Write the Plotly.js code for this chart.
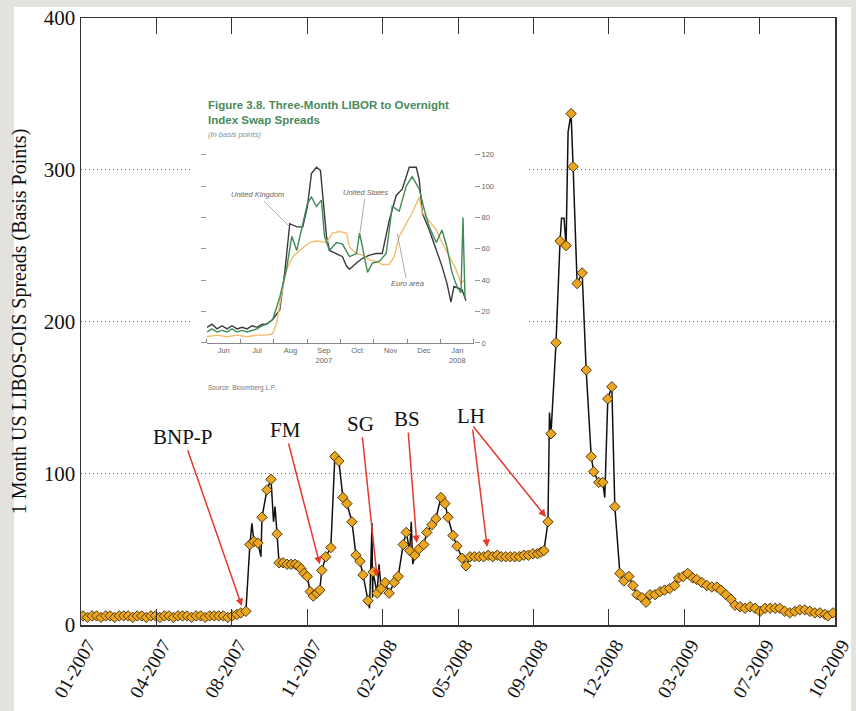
<!DOCTYPE html>
<html><head><meta charset="utf-8">
<script src="https://cdn.plot.ly/plotly-3.0.1.min.js"></script>
<style>html,body{margin:0;padding:0;background:#e4e2dd;} #chart{width:856px;height:711px;}</style>
</head><body><div id="chart"></div>
<script>
// ---------- main chart data (x = observation position, y = 1M LIBOR-OIS spread, bp) ----------
const tickPos = [0,15,30,45,60,75,90,105,120,135,150];
const tickLabels = ['01-2007','04-2007','08-2007','11-2007','02-2008','05-2008','09-2008','12-2008','03-2009','07-2009','10-2009'];

const obsT = [0.4,1.3,2.2,3.1,4.0,4.9,5.8,6.7,7.6,8.5,9.4,10.3,11.2,12.1,13.0,13.9,14.8,15.7,16.6,17.5,18.4,19.3,20.2,21.1,22.0,22.9,23.8,24.7,25.6,26.5,27.4,28.3,29.2,30.1,31.0,31.8,32.8,
  33.6,34.4,35.2,36.0,37.0,37.8,39.0,39.4,40.2,41.0,41.8,42.6,43.2,43.8,44.4,45.0,45.6,46.2,46.9,47.5,47.9,48.7,49.7,50.5,51.3,52.1,52.9,53.9,54.7,55.5,56.1,57.1,
  58.1,58.9,59.7,60.5,61.3,62.3,63.1,64.1,64.7,65.4,66.4,67.2,68.2,68.8,69.8,70.6,71.6,72.4,73.0,74.0,74.8,75.8,76.6,77.4,
  78.3,79.2,80.1,81.0,81.9,82.8,83.6,84.5,85.4,86.3,87.2,88.1,89.0,89.9,90.8,91.5,92.1,92.9,93.5,94.5,95.3,96.5,97.5,97.9,98.7,99.7,
  100.5,101.5,102.0,103.0,103.8,104.8,105.6,106.2,107.2,108.0,109.0,109.8,110.6,111.6,112.4,113.2,114.2,115.2,116.1,117.1,118.1,118.9,119.8,120.7,121.7,
  122.5,123.5,124.5,125.5,126.5,127.3,128.3,129.3,130.1,131.1,132.1,133.1,134.1,135.1,136.1,137.1,138.1,139.0,140.0,141.0,142.0,143.0,144.0,145.0,146.0,147.0,148.0,148.6,149.6];
const spread = [6,5,6,6,5,6,6,5,6,6, 6,5,6,6,5,6,6,5,6,6, 5,6,6,6,5,6,6,5,6,6, 6,6,5,6,7, 8,9,
  53,55,54,71,89,96, 60,41,41,40,40,40, 39,37,34,32,22,19, 21,23,36,45,51, 111,108,84,80,68, 46,42,33,16,
  35,21,24,28,21, 28,32,53,61,49, 46,50,53,61,66, 70,84,80,71,59, 52,44,39,45,
  45,45,45,46,45, 46,45,45,45,45, 45,46,46,47,47, 48,49,68,126,186, 253,250,337,302,225,232,
  168,111,101,94,94, 149,157,78,34,29, 32,26,20,18,15, 20,20,22,23,24, 26,31,32,34,31,
  30,28,26,25,25, 23,20,17,13,12, 11,12,11,9,11, 11,11,11,9,8, 9,10,10,9,8, 8,7,6,8];
// intra-week extremes of the daily line (no marker)
const spikeT = [34.0,35.8,38.3,38.6,57.4,57.9,58.0,59.3,65.7,66.0,93.2,95.6,96.1,96.9,104.2];
const spikeV = [67,45,68,78,11,67,18,40,68,40,140,268,268,325,84];

// ---------- inset (Figure 3.8) data: x = months since 1 Jun 2007 ----------
const insetMonths = ['Jun','Jul','Aug','Sep<br>2007','Oct','Nov','Dec','Jan<br>2008'];
const ukM = [0,0.15,0.3,0.45,0.6,0.75,0.9,1.05,1.2,1.35,1.5,1.65,1.79,1.97,2.18,2.33,2.48,2.69,2.87,3.01,3.13,3.28,3.40,3.46,3.58,3.67,3.88,4.06,4.18,4.27,4.48,4.66,4.87,5.07,5.25,5.46,5.67,5.85,6.06,6.27,6.36,6.45,6.66,6.87,7.04,7.19,7.31,7.40,7.55,7.64,7.76];
const ukV = [10,12,9,11,9,11,9,10,9,11,10,12,12,15,21,45,76,74,74,87,108,112,110,96,68,59,57,55,49,47,51,54,56,57,57,78,94,98,112,112,104,83,72,59,49,38,26,36,35,34,27];
const usM = [0,0.15,0.3,0.45,0.6,0.75,0.9,1.05,1.2,1.35,1.5,1.65,1.79,1.97,2.18,2.39,2.54,2.69,2.87,3.01,3.13,3.28,3.43,3.52,3.67,3.88,4.06,4.27,4.48,4.57,4.66,4.81,4.96,5.16,5.37,5.55,5.76,5.97,6.15,6.36,6.51,6.66,6.87,7.04,7.19,7.34,7.49,7.61,7.67,7.73];
const usV = [7,9,7,8,7,9,7,8,7,8,9,11,12,15,29,48,68,59,76,89,93,87,91,68,59,64,63,55,57,70,61,45,51,52,57,87,84,100,106,98,85,74,64,72,61,45,36,32,80,29];
const eaM = [0,0.3,0.6,0.9,1.2,1.5,1.79,1.97,2.09,2.24,2.39,2.57,2.78,3.07,3.28,3.58,3.76,3.97,4.18,4.27,4.48,4.66,4.87,5.07,5.25,5.46,5.61,5.76,5.97,6.15,6.36,6.45,6.66,6.87,7.04,7.25,7.46,7.61,7.70];
const eaV = [4,5,4,5,4,5,5,6,13,32,47,55,59,64,65,64,70,71,70,61,57,56,53,52,50,50,55,68,76,83,93,83,78,72,64,55,47,38,40];

// ---------- build ----------
const merged = obsT.map((t,i)=>[t,spread[i]]).concat(spikeT.map((t,i)=>[t,spikeV[i]])).sort((a,b)=>a[0]-b[0]);
const serif = 'Liberation Serif, Times New Roman, serif';
const sans = 'Liberation Sans, Arial, sans-serif';

const traces = [
  {x: merged.map(p=>p[0]), y: merged.map(p=>p[1]), mode:'lines', line:{color:'#111', width:1.5}, hoverinfo:'skip', xaxis:'x', yaxis:'y'},
  {x: obsT, y: spread, mode:'markers', marker:{symbol:'diamond', size:8, color:'#eca620', line:{color:'#3b2a05', width:0.9}}, xaxis:'x', yaxis:'y'},
  {x: ukM, y: ukV, mode:'lines', line:{color:'#3a3a3a', width:1.4}, xaxis:'x2', yaxis:'y2'},
  {x: eaM, y: eaV, mode:'lines', line:{color:'#f3bd6a', width:1.4}, xaxis:'x2', yaxis:'y2'},
  {x: usM, y: usV, mode:'lines', line:{color:'#3d8a57', width:1.4}, xaxis:'x2', yaxis:'y2'}
];

const arrowStyle = {showarrow:true, arrowcolor:'#e5392e', arrowwidth:1.5, arrowhead:2, arrowsize:1, axref:'x', ayref:'y', xref:'x', yref:'y', font:{family:serif, size:21, color:'#111'}};
const events = [
  {text:'BNP-P', x:32.0, y:12.5, ax:20.3, ay:124},
  {text:'FM', x:47.5, y:40, ax:40.6, ay:128.5},
  {text:'SG', x:58.9, y:31.6, ax:55.7, ay:132.5},
  {text:'BS', x:66.8, y:54, ax:64.9, ay:135.7},
  {text:'LH', x:80.8, y:51.4, ax:77.6, ay:137.7},
  {text:'', x:92.5, y:71.2, ax:77.8, ay:131.8}
];
const annotations = events.map(e=>Object.assign({}, arrowStyle, e));

const inLbl = {xref:'x2', yref:'y2', axref:'x2', ayref:'y2', showarrow:true, arrowhead:0, arrowwidth:0.7, arrowcolor:'#888', font:{family:sans, size:7.5, color:'#666'}};
annotations.push(Object.assign({}, inLbl, {text:'<i>United Kingdom</i>', ax:1.52, ay:94.4, x:2.48, y:74}));
annotations.push(Object.assign({}, inLbl, {text:'<i>United States</i>', ax:4.75, ay:95.7, x:4.57, y:68}));
annotations.push(Object.assign({}, inLbl, {text:'<i>Euro area</i>', ax:6.0, ay:37.6, x:5.7, y:70}));
annotations.push({xref:'paper', yref:'paper', x:0.1658, y:0.8699, xanchor:'left', yanchor:'top', align:'left', showarrow:false,
  text:'<b>Figure 3.8. Three-Month LIBOR to Overnight<br>Index Swap Spreads</b>', font:{family:'Liberation Sans Narrow, Liberation Sans, Arial', size:11.5, color:'#4a8a5c'}});
annotations.push({xref:'paper', yref:'paper', x:0.1658, y:0.8188, xanchor:'left', yanchor:'top', showarrow:false,
  text:'<i>(In basis points)</i>', font:{family:sans, size:7.5, color:'#8a8a8a'}});
annotations.push({xref:'paper', yref:'paper', x:0.1658, y:0.3904, xanchor:'left', yanchor:'middle', showarrow:false,
  text:'Source: Bloomberg L.P.', font:{family:sans, size:6.5, color:'#777'}});

const layout = {
  width:856, height:711,
  paper_bgcolor:'#e4e2dd', plot_bgcolor:'#ffffff',
  margin:{l:81, r:21, t:18, b:86},
  showlegend:false,
  font:{family:serif, color:'#111'},
  xaxis:{range:[0,150], tickmode:'array', tickvals:tickPos, ticktext:tickLabels, tickangle:-60, ticklabelshift:7, ticklabeloverflow:'allow',
    ticks:'inside', ticklen:16, tickcolor:'#333', tickwidth:1, showgrid:false, zeroline:false,
    showline:true, linecolor:'#333', linewidth:1.5, mirror:'allticks',
    tickfont:{family:serif, size:19, color:'#111'}},
  yaxis:{range:[0,400], tickvals:[0,100,200,300,400], ticks:'', showgrid:true, gridcolor:'#666', griddash:'1px,3px', gridwidth:1,
    zeroline:false, showline:true, linecolor:'#333', linewidth:1.5, mirror:true,
    tickfont:{family:serif, size:21, color:'#111'},
    title:{text:'1 Month US LIBOS-OIS Spreads (Basis Points)', font:{family:serif, size:20, color:'#111'}, standoff:12}},
  xaxis2:{domain:[0.1671,0.5212], anchor:'y2', range:[0,8], tickmode:'array', tickvals:[0.5,1.5,2.5,3.5,4.5,5.5,6.5,7.5], ticktext:insetMonths,
    ticks:'', showgrid:false, zeroline:false, showline:true, linecolor:'#888', linewidth:1,
    minor:{tickmode:'array', tickvals:[0,1,2,3,4,5,6,7,8], ticks:'inside', ticklen:4, tickcolor:'#888', showgrid:false},
    tickfont:{family:sans, size:7.5, color:'#666'}},
  yaxis2:{domain:[0.4646,0.8007], anchor:'x2', side:'right', range:[0,130], tickvals:[0,20,40,60,80,100,120],
    ticks:'outside', ticklen:5, tickcolor:'#999', mirror:'ticks', showline:false, showgrid:false, zeroline:false,
    tickfont:{family:sans, size:7.5, color:'#666'}},
  shapes:[
    {type:'rect', xref:'paper', yref:'paper', x0:-0.0889, x1:1.0212, y0:-0.1417, y1:1.018, fillcolor:'#ffffff', line:{width:0}, layer:'below'},
    {type:'rect', xref:'x', yref:'y', x0:22.3, x1:88.9, y0:148, y1:356, fillcolor:'#ffffff', line:{width:0}, layer:'between'}
  ],
  annotations: annotations
};

Plotly.newPlot('chart', traces, layout, {displayModeBar:false, staticPlot:true});
</script></body></html>
